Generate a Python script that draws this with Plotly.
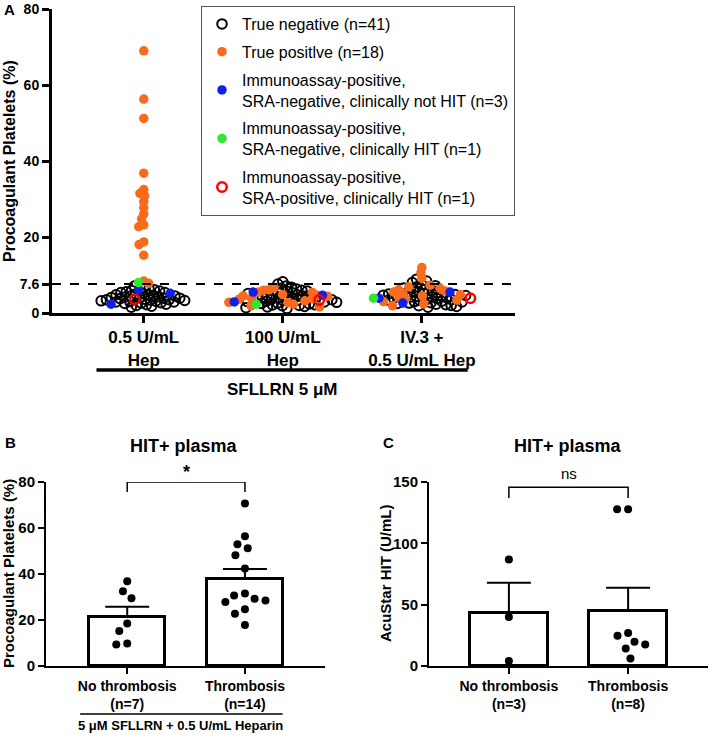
import numpy as np
import plotly.graph_objects as go

W, H = 709, 740
FONT = "Liberation Sans"

# ---------------- panel A data (procoagulant platelets, %) ----------------
groups_a = ["0.5 U/mL<br>Hep", "100 U/mL<br>Hep", "IV.3 +<br>0.5 U/mL Hep"]

neg_a = [
    [4.5, 3.1, 5.8, 2.6, 7.1, 3.9, 4.8, 2.2, 5.4, 3.5, 6.3, 2.9, 4.1, 1.5, 5.0, 3.3,
     6.6, 2.5, 4.3, 3.8, 5.6, 2.0, 4.6, 3.4, 6.1, 2.7, 5.2, 3.0, 4.0, 1.8, 5.9, 3.6,
     4.9, 2.3, 5.4, 3.2, 4.2, 2.9, 3.9, 4.5, 3.5],
    [4.4, 2.9, 6.0, 1.7, 8.2, 3.6, 5.1, 2.4, 4.7, 3.3, 6.5, 2.1, 5.7, 1.4, 4.0, 3.0,
     7.1, 2.6, 5.3, 3.9, 6.8, 1.9, 4.2, 3.5, 5.8, 2.2, 7.6, 3.1, 4.8, 1.2, 5.5, 3.4,
     4.1, 2.8, 6.3, 3.7, 5.0, 2.0, 4.5, 1.6, 2.5],
    [4.6, 3.0, 6.2, 1.9, 8.9, 3.5, 5.3, 2.6, 4.9, 3.3, 6.9, 2.2, 5.6, 1.5, 4.3, 3.1,
     7.5, 2.7, 5.1, 3.9, 6.6, 2.0, 4.2, 3.6, 8.4, 2.5, 5.8, 3.4, 4.7, 1.7, 6.0, 3.8,
     4.4, 2.9, 7.2, 4.0, 5.5, 2.3, 8.0, 5.0, 4.6],
]
pos_a = [
    [69.0, 56.3, 51.2, 36.8, 32.5, 31.5, 30.8, 29.3, 27.7, 26.1, 24.8, 23.2, 22.7,
     18.7, 18.0, 15.2, 8.4, 7.8],
    [6.6, 6.1, 6.0, 5.5, 5.4, 4.9, 4.7, 4.5, 4.4, 3.9, 3.7, 3.6, 3.2, 2.8, 2.7,
     2.3, 1.9, 1.6],
    [12.0, 10.6, 9.1, 7.3, 6.9, 6.5, 6.1, 5.8, 5.5, 5.1, 4.8, 4.5, 4.1, 3.8, 3.4,
     3.0, 2.4, 1.9],
]
blue_a = [[6.2, 5.2, 2.3], [5.5, 4.7, 2.9], [5.5, 3.9, 2.6]]
green_a = [[8.0], [2.3], [3.9]]
red_a = [[3.6], [3.4], [3.9]]

series_a = [
    ("True negative (n=41)", neg_a, "circle-open", "black", 2),
    ("True positlve (n=18)", pos_a, "circle", "#FA6A1C", 0),
    ("Immunoassay-positive,<br>SRA-negative, clinically not HIT (n=3)", blue_a, "circle", "#1020E8", 0),
    ("Immunoassay-positive,<br>SRA-negative, clinically HIT (n=1)", green_a, "circle", "#2EE82E", 0),
    ("Immunoassay-positive,<br>SRA-positive, clinically HIT (n=1)", red_a, "circle-open", "#FF0000", 2.5),
]
cutoff = 7.6

# ---------------- panel B data ----------------
cats_bc = ["No thrombosis", "Thrombosis"]
b_n = [7, 14]
b_no = [36.9, 32.5, 29.5, 18.5, 15.2, 9.4, 9.8]
b_yes = [70.6, 56.4, 52.9, 51.2, 48.2, 42.4, 30.7, 31.5, 28.5, 29.2, 27.8, 24.7, 22.7, 17.8]
b_mean = [21.5, 37.8]
b_sem = [4.3, 4.4]

# ---------------- panel C data ----------------
c_n = [3, 8]
c_no = [86.8, 40.0, 4.0]
c_yes = [127.8, 127.8, 27.0, 19.7, 24.6, 14.3, 6.2, 17.6]
c_mean = [43.2, 45.1]
c_sem = [24.6, 18.7]


def swarm(values, y_scale, x_scale, d):
    """simple beeswarm: offsets (in category units) so markers don't collide"""
    v = np.asarray(values, float)
    px_x, px_y = [], []
    off = np.zeros(len(v))
    for i in np.argsort(-v, kind="stable"):
        y = v[i] * y_scale
        iv = []
        for qx, qy in zip(px_x, px_y):
            dy = abs(qy - y)
            if dy < d:
                dx = np.sqrt(d * d - dy * dy)
                iv.append((qx - dx, qx + dx))
        cands = sorted([0.0] + [a for a, _ in iv] + [b for _, b in iv], key=lambda c: (abs(c), c))
        x = next(c for c in cands if all(not (a + 1e-6 < c < b - 1e-6) for a, b in iv))
        px_x.append(x)
        px_y.append(y)
        off[i] = x / x_scale
    return off


# axis geometry
ax_dom = [52 / W, 515 / W]
ax_rng = [-0.66, 2.67]
ay_dom = [1 - 313 / H, 1 - 9 / H]
bx_dom = [46 / W, 325 / W]
bx_rng = [-0.69, 1.68]
cx_dom = [429 / W, 708 / W]
cx_rng = [-0.67, 1.67]
bc_ydom = [1 - 666 / H, 1 - 482 / H]

fig = go.Figure()

# ---- panel A scatter ----
xs_a = (ax_dom[1] - ax_dom[0]) * W / (ax_rng[1] - ax_rng[0])
ys_a = (ay_dom[1] - ay_dom[0]) * H / 80
offsets = []
for g in range(3):
    vals = sum([s[1][g] for s in series_a], [])
    offsets.append(swarm(vals, ys_a, xs_a, 5.4))

for k, (name, data, sym, col, lw) in enumerate(series_a):
    xx, yy = [], []
    for g in range(3):
        start = sum(len(s[1][g]) for s in series_a[:k])
        o = offsets[g][start:start + len(data[g])]
        xx += list(g + o)
        yy += data[g]
    fig.add_trace(go.Scatter(
        x=xx, y=yy, mode="markers", name=name, legendgroup=name,
        marker=dict(symbol=sym, size=9.5, color=col, line=dict(width=lw, color=col)),
        xaxis="x", yaxis="y", cliponaxis=False,
    ))

# ---- panels B and C ----
for ax, rng, ymax, mean, sem, pts, n, d in [
    ("2", bx_rng, 80, b_mean, b_sem, [b_no, b_yes], b_n, bx_dom),
    ("3", cx_rng, 150, c_mean, c_sem, [c_no, c_yes], c_n, cx_dom),
]:
    fig.add_trace(go.Bar(
        x=[0, 1], y=mean, width=0.65, xaxis="x" + ax, yaxis="y" + ax, showlegend=False,
        marker=dict(color="white", line=dict(color="black", width=3)),
        error_y=dict(type="data", array=sem, arrayminus=[0, 0], symmetric=False,
                     color="black", thickness=2, width=22),
    ))
    xs = (d[1] - d[0]) * W / (rng[1] - rng[0])
    ys = (bc_ydom[1] - bc_ydom[0]) * H / ymax
    xx, yy = [], []
    for g in range(2):
        xx += list(g + swarm(pts[g], ys, xs, 11))
        yy += pts[g]
    fig.add_trace(go.Scatter(
        x=xx, y=yy, mode="markers", showlegend=False, xaxis="x" + ax, yaxis="y" + ax,
        marker=dict(color="black", size=8), cliponaxis=False,
    ))

bold = dict(family=FONT, color="black", weight="bold")
axis_common = dict(showgrid=False, zeroline=False, showline=True, linecolor="black",
                   ticks="outside", tickcolor="black", automargin=False,
                   ticklabeloverflow="allow")

fig.update_layout(
    template="none",
    width=W, height=H, margin=dict(l=0, r=0, t=0, b=0, pad=0),
    paper_bgcolor="white", plot_bgcolor="white",
    font=dict(family=FONT, color="black"),
    bargap=0,
    xaxis=dict(domain=ax_dom, range=ax_rng, anchor="y", tickvals=[0, 1, 2], ticktext=groups_a,
               linewidth=3, ticklen=7, tickwidth=3, tickfont=dict(size=17, **bold), **axis_common),
    yaxis=dict(domain=ay_dom, range=[0, 80], anchor="x", tickvals=[0, cutoff, 20, 40, 60, 80],
               ticktext=["0", "7.6", "20", "40", "60", "80"],
               linewidth=3, ticklen=7, tickwidth=3, tickfont=dict(size=14, **bold), **axis_common),
    xaxis2=dict(domain=bx_dom, range=bx_rng, anchor="y2", tickvals=[0, 1],
                ticktext=[f"{c}<br>(n={n})" for c, n in zip(cats_bc, b_n)],
                linewidth=2, ticklen=6, tickwidth=2, tickfont=dict(size=14, **bold), **axis_common),
    yaxis2=dict(domain=bc_ydom, range=[0, 80], anchor="x2", dtick=20,
                linewidth=2, ticklen=6, tickwidth=2, tickfont=dict(size=15, **bold), **axis_common),
    xaxis3=dict(domain=cx_dom, range=cx_rng, anchor="y3", tickvals=[0, 1],
                ticktext=[f"{c}<br>(n={n})" for c, n in zip(cats_bc, c_n)],
                linewidth=2, ticklen=6, tickwidth=2, tickfont=dict(size=14, **bold), **axis_common),
    yaxis3=dict(domain=bc_ydom, range=[0, 150], anchor="x3", dtick=50,
                linewidth=2, ticklen=6, tickwidth=2, tickfont=dict(size=15, **bold), **axis_common),
    legend=dict(x=201 / W, y=1 - 6 / H, xanchor="left", yanchor="top",
                bordercolor="#555", borderwidth=1, bgcolor="white",
                font=dict(family=FONT, size=16, color="black"), tracegroupgap=4),
    showlegend=True,
)

# reference lines and brackets
fig.add_shape(type="line", xref="x domain", yref="y", x0=0, x1=1, y0=cutoff, y1=cutoff,
              line=dict(color="black", width=2, dash="dash"))
fig.add_shape(type="line", xref="x", yref="paper", x0=-0.34, x1=2.33, y0=1 - 370 / H, y1=1 - 370 / H,
              line=dict(color="black", width=3.5))
fig.add_shape(type="path", xref="x2", yref="y2", path="M 0,75.7 L 0,80 L 1,80 L 1,75.7",
              line=dict(color="black", width=1.5))
fig.add_shape(type="path", xref="x3", yref="y3", path="M 0,137 L 0,145.7 L 1,145.7 L 1,137",
              line=dict(color="black", width=1.5))
fig.add_shape(type="line", xref="x2", yref="paper", x0=-0.4, x1=1.32, y0=1 - 714 / H, y1=1 - 714 / H,
              line=dict(color="black", width=1.5))


def note(text, x, y, size, xref="paper", yref="paper", weight="bold", angle=0):
    fig.add_annotation(text=text, x=x, y=y, xref=xref, yref=yref, showarrow=False,
                       xanchor="center", yanchor="middle", textangle=angle,
                       font=dict(family=FONT, size=size, color="black", weight=weight))


note("A", 9 / W, 1 - 10 / H, 15)
note("B", 10 / W, 1 - 442 / H, 15)
note("C", 388 / W, 1 - 442 / H, 15)
note("HIT+ plasma", 184 / W, 1 - 446 / H, 18)
note("HIT+ plasma", 568 / W, 1 - 446 / H, 18)
note("Procoagulant Platelets (%)", 9 / W, 1 - 161 / H, 16, angle=-90)
note("Procoagulant Platelets (%)", 8 / W, 1 - 574 / H, 15, angle=-90)
note("AcuStar HIT (U/mL)", 385 / W, 1 - 573 / H, 15, angle=-90)
note("SFLLRN 5 μM", 1, 1 - 390 / H, 17, xref="x")
note("5 μM SFLLRN + 0.5 U/mL Heparin", 180 / W, 1 - 725 / H, 13)
note("*", 0.5, 1 - 472 / H, 18, xref="x2")
note("ns", 0.5, 1 - 473 / H, 15, xref="x3", weight="normal")

# the page's default 8px body margin would push the 709x740 figure off the window
fig.write_html("out.html", config={"displayModeBar": False},
               post_script="document.body.style.margin = '0';")
